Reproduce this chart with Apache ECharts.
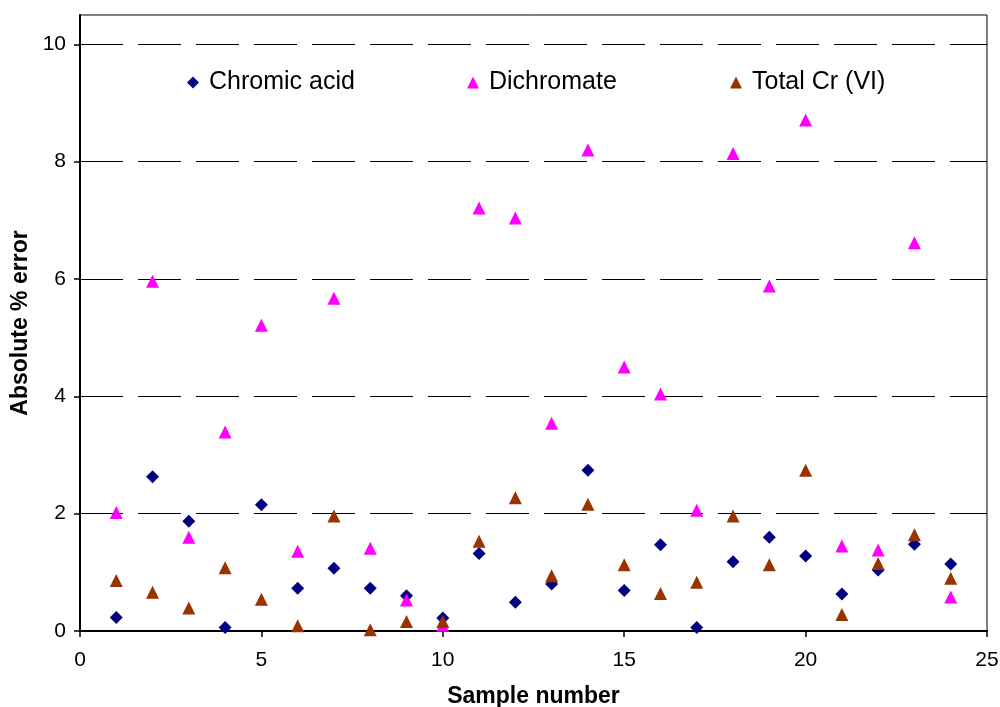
<!DOCTYPE html>
<html>
<head>
<meta charset="utf-8">
<title>Absolute % error by sample</title>
<script src="https://cdn.jsdelivr.net/npm/echarts@6/dist/echarts.min.js"></script>
<style>
  html, body { margin: 0; padding: 0; background: #fff; }
  #chart { width: 1000px; height: 707px; }
</style>
</head>
<body>
<div id="chart"></div>
<script>
// Sample numbers along the x axis
var samples = [1, 2, 3, 4, 5, 6, 7, 8, 9, 10, 11, 12, 13, 14, 15, 16, 17, 18, 19, 20, 21, 22, 23, 24];

// Absolute % error for each species
var chromicAcid = [0.23, 2.63, 1.87, 0.06, 2.15, 0.73, 1.07, 0.73, 0.60, 0.22, 1.32, 0.49,
                   0.80, 2.74, 0.69, 1.47, 0.06, 1.18, 1.60, 1.28, 0.63, 1.04, 1.48, 1.14];
var dichromate  = [2.02, 5.96, 1.60, 3.39, 5.21, 1.36, 5.67, 1.41, 0.53, 0.10, 7.21, 7.04,
                   3.54, 8.20, 4.50, 4.04, 2.06, 8.14, 5.88, 8.71, 1.45, 1.38, 6.62, 0.58];
var totalCrVI   = [0.86, 0.66, 0.39, 1.08, 0.54, 0.09, 1.96, 0.02, 0.16, 0.16, 1.53, 2.27,
                   0.94, 2.16, 1.13, 0.64, 0.83, 1.96, 1.13, 2.74, 0.28, 1.15, 1.64, 0.90];

// Tick values
var yTicks = [0, 2, 4, 6, 8, 10];

var FONT = '"Liberation Sans", Arial, sans-serif';

function pairs(values) {
  return samples.map(function (s, i) { return [s, values[i]]; });
}

function legendFor(name, left) {
  return {
    data: [name],
    left: left,
    top: 65,
    orient: 'horizontal',
    itemWidth: 12,
    itemHeight: 12,
    selectedMode: false,
    textStyle: { fontFamily: FONT, fontSize: 25, color: '#000', lineHeight: 24,
                 padding: [0, 0, 0, 5] }
  };
}

var chart = echarts.init(document.getElementById('chart'), null, { renderer: 'canvas' });

chart.setOption({
  animation: false,
  backgroundColor: '#fff',
  grid: {
    left: 80, right: 13, top: 15, bottom: 76,
    outerBoundsMode: 'none',
    containLabel: false,
    show: true, borderColor: '#000', borderWidth: 1, backgroundColor: 'transparent'
  },
  legend: [
    legendFor('Chromic acid', 182),
    legendFor('Dichromate', 462),
    legendFor('Total Cr (VI)', 725)
  ],
  xAxis: {
    type: 'value',
    min: 0, max: 25, interval: 5,
    name: 'Sample number',
    nameLocation: 'middle',
    nameGap: 54,
    nameTextStyle: { fontFamily: FONT, fontSize: 23, fontWeight: 'bold', color: '#000' },
    axisLine: { show: true, onZero: false, lineStyle: { color: '#000', width: 2 } },
    axisTick: { show: true, inside: false, length: 6, lineStyle: { color: '#000', width: 1.5 } },
    axisLabel: { fontFamily: FONT, fontSize: 21, color: '#000', margin: 19 },
    splitLine: { show: false }
  },
  yAxis: {
    type: 'value',
    min: 0, max: 10.5, interval: 2,
    name: 'Absolute % error',
    nameLocation: 'middle',
    nameGap: 48,
    nameTextStyle: { fontFamily: FONT, fontSize: 23, fontWeight: 'bold', color: '#000' },
    axisLine: { show: true, lineStyle: { color: '#000', width: 2 } },
    axisTick: { show: true, inside: false, length: 6, customValues: yTicks,
                lineStyle: { color: '#000', width: 1.5 } },
    axisLabel: { fontFamily: FONT, fontSize: 21, color: '#000', margin: 14,
                 customValues: yTicks, showMaxLabel: true },
    splitLine: { show: true, lineStyle: { color: '#000', width: 1, type: [43, 15] } }
  },
  series: [
    {
      name: 'Chromic acid', type: 'scatter', symbol: 'diamond', symbolSize: 13,
      itemStyle: { color: '#000080', opacity: 1 }, data: pairs(chromicAcid)
    },
    {
      name: 'Dichromate', type: 'scatter', symbol: 'triangle', symbolSize: 13,
      itemStyle: { color: '#FF00FF', opacity: 1 }, data: pairs(dichromate)
    },
    {
      name: 'Total Cr (VI)', type: 'scatter', symbol: 'triangle', symbolSize: 13,
      itemStyle: { color: '#993300', opacity: 1 }, data: pairs(totalCrVI)
    }
  ]
});
</script>
</body>
</html>
